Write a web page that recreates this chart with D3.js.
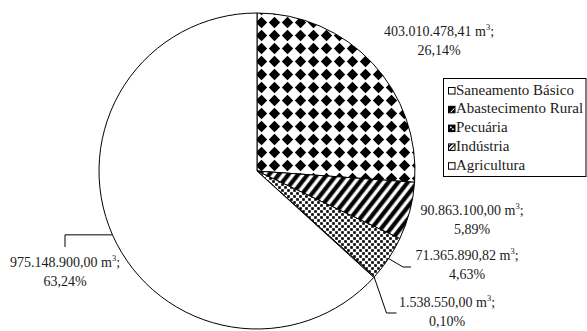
<!DOCTYPE html>
<html><head><meta charset="utf-8">
<script src="https://cdn.jsdelivr.net/npm/d3@7"></script>
<style>html,body{margin:0;padding:0;background:#fff;}svg{display:block;}</style>
</head><body>
<svg id="chart" width="587" height="331"></svg>
<script>
// ---- data ----
const categories = ["Saneamento Básico", "Abastecimento Rural", "Pecuária", "Indústria", "Agricultura"];
const volumes = [403010478.41, 90863100.00, 71365890.82, 1538550.00, 975148900.00];
const unitLabel = "m";

// ---- layout / style ----
const W = 587, H = 331;
const cx = 257, cy = 171, R = 158;
const textColor = "#1a1a1a";
const FONT = "Liberation Serif";
const fills = ["url(#pChecker)", "url(#pStripes)", "url(#pDots)", "#fff", "#fff"];
// label anchor (center x, first baseline y) and optional leader elbow
const labelPos = [
  {x: 439, y: 36, leader: null},
  {x: 472, y: 215, leader: null},
  {x: 467, y: 260, leader: {elbow: [403, 267], end: [411, 267]}},
  {x: 447, y: 307, leader: {elbow: [386.5, 313], end: [396.5, 313]}},
  {x: 65, y: 267, leader: {horizToX: 65, downToY: 247}}
];

const ptBR = d3.formatLocale({decimal: ",", thousands: ".", grouping: [3], currency: ["R$", ""]});
const fmtVol = ptBR.format(",.2f");
const fmtPct = ptBR.format(".2%");
const total = d3.sum(volumes);

const svg = d3.select("#chart");
const defs = svg.append("defs");

// checker diamonds
const P = 13;
const pc = defs.append("pattern").attr("id", "pChecker").attr("patternUnits", "userSpaceOnUse")
  .attr("width", P).attr("height", P).attr("x", cx + 1).attr("y", 14);
pc.append("rect").attr("width", P).attr("height", P).attr("fill", "#fff");
pc.append("path").attr("d", `M${P/2},0.8 L${P-0.8},${P/2} L${P/2},${P-0.8} L0.8,${P/2}Z`).attr("fill", "#000");

// diagonal stripes
const ps = defs.append("pattern").attr("id", "pStripes").attr("patternUnits", "userSpaceOnUse")
  .attr("width", 7.6).attr("height", 7.6).attr("patternTransform", "rotate(38)");
const sg = defs.append("linearGradient").attr("id", "gStripe").attr("x1", 0).attr("x2", 1).attr("y1", 0).attr("y2", 0);
[[0, "#fff"], [18, "#fff"], [34, "#000"], [74, "#000"], [90, "#fff"], [100, "#fff"]].forEach(s =>
  sg.append("stop").attr("offset", s[0] + "%").attr("stop-color", s[1]));
ps.append("rect").attr("width", 7.6).attr("height", 7.6).attr("fill", "url(#gStripe)");

// dots
const pd = defs.append("pattern").attr("id", "pDots").attr("patternUnits", "userSpaceOnUse")
  .attr("width", 6).attr("height", 6);
pd.append("rect").attr("width", 6).attr("height", 6).attr("fill", "#fff");
pd.append("rect").attr("x", 0.2).attr("y", 0.2).attr("width", 2.6).attr("height", 2.6).attr("fill", "#000");
pd.append("rect").attr("x", 3.2).attr("y", 3.2).attr("width", 2.6).attr("height", 2.6).attr("fill", "#000");

// ---- pie ----
const pie = d3.pie().sort(null).value(d => d);
const arcs = pie(volumes);
const arc = d3.arc().innerRadius(0).outerRadius(R);
const g = svg.append("g").attr("transform", `translate(${cx},${cy})`);
g.selectAll("path.slice").data(arcs).join("path")
  .attr("class", "slice")
  .attr("d", arc)
  .attr("fill", (d, i) => fills[i])
  .attr("stroke", "#000").attr("stroke-width", 1).attr("stroke-linejoin", "round");

// ---- leaders ----
function edgePoint(d) {
  const a = (d.startAngle + d.endAngle) / 2;
  return [cx + R * Math.sin(a), cy - R * Math.cos(a)];
}
arcs.forEach((d, i) => {
  const lp = labelPos[i];
  if (!lp.leader) return;
  const p0 = edgePoint(d);
  let pts;
  if (lp.leader.elbow) pts = [p0, lp.leader.elbow, lp.leader.end];
  else pts = [p0, [lp.leader.horizToX, p0[1]], [lp.leader.horizToX, lp.leader.downToY]];
  svg.append("path").attr("d", d3.line()(pts)).attr("fill", "none")
    .attr("stroke", "#000").attr("stroke-width", 1);
});

// ---- labels ----
arcs.forEach((d, i) => {
  const lp = labelPos[i];
  const t = svg.append("text").attr("text-anchor", "middle")
    .attr("font-family", FONT).attr("font-size", 14).attr("fill", textColor);
  const l1 = t.append("tspan").attr("x", lp.x).attr("y", lp.y);
  l1.append("tspan").text(fmtVol(volumes[i]) + " " + unitLabel);
  l1.append("tspan").attr("font-size", 8.5).attr("dy", -6.5).text("3");
  l1.append("tspan").attr("dy", 6.5).text(";");
  t.append("tspan").attr("x", lp.x).attr("y", lp.y + 18.5).text(fmtPct(volumes[i] / total));
});

// ---- legend ----
const leg = svg.append("g");
const legX = 443.5, legY = 78.5, legW = 142.5, legH = 98, rowH = 18.8, firstBase = 94.5;
leg.append("rect").attr("x", legX).attr("y", legY).attr("width", legW).attr("height", legH)
  .attr("fill", "#fff").attr("stroke", "#000").attr("stroke-width", 1);
categories.forEach((c, i) => {
  const by = firstBase + i * rowH;
  const sw = leg.append("g").attr("transform", `translate(448.5,${by - 7})`);
  sw.append("rect").attr("width", 6.5).attr("height", 6.5).attr("fill", "#fff").attr("stroke", "#000").attr("stroke-width", 1);
  if (i === 1) sw.append("path").attr("d", "M0,6.5 L0,0 L6.5,0 L6.5,1 L1,6.5Z M2.2,6.5 L6.5,2.2 L6.5,6.5Z").attr("fill", "#000");
  if (i === 2) { sw.append("rect").attr("width", 6.5).attr("height", 6.5).attr("fill", "#000");
                 sw.append("rect").attr("x", 1.5).attr("y", 1.5).attr("width", 1.6).attr("height", 1.6).attr("fill", "#fff");
                 sw.append("rect").attr("x", 3.6).attr("y", 3.4).attr("width", 1.6).attr("height", 1.6).attr("fill", "#fff"); }
  if (i === 3) sw.append("path").attr("d", "M0,6.5 L6.5,0 L6.5,1.6 L1.6,6.5Z M0,4.3 L4.3,0 L2.2,0 L0,2.2Z").attr("fill", "#000");
  leg.append("text").attr("x", 456).attr("y", by)
    .attr("font-family", FONT).attr("font-size", 15).attr("fill", textColor).text(c);
});
</script>
</body></html>
